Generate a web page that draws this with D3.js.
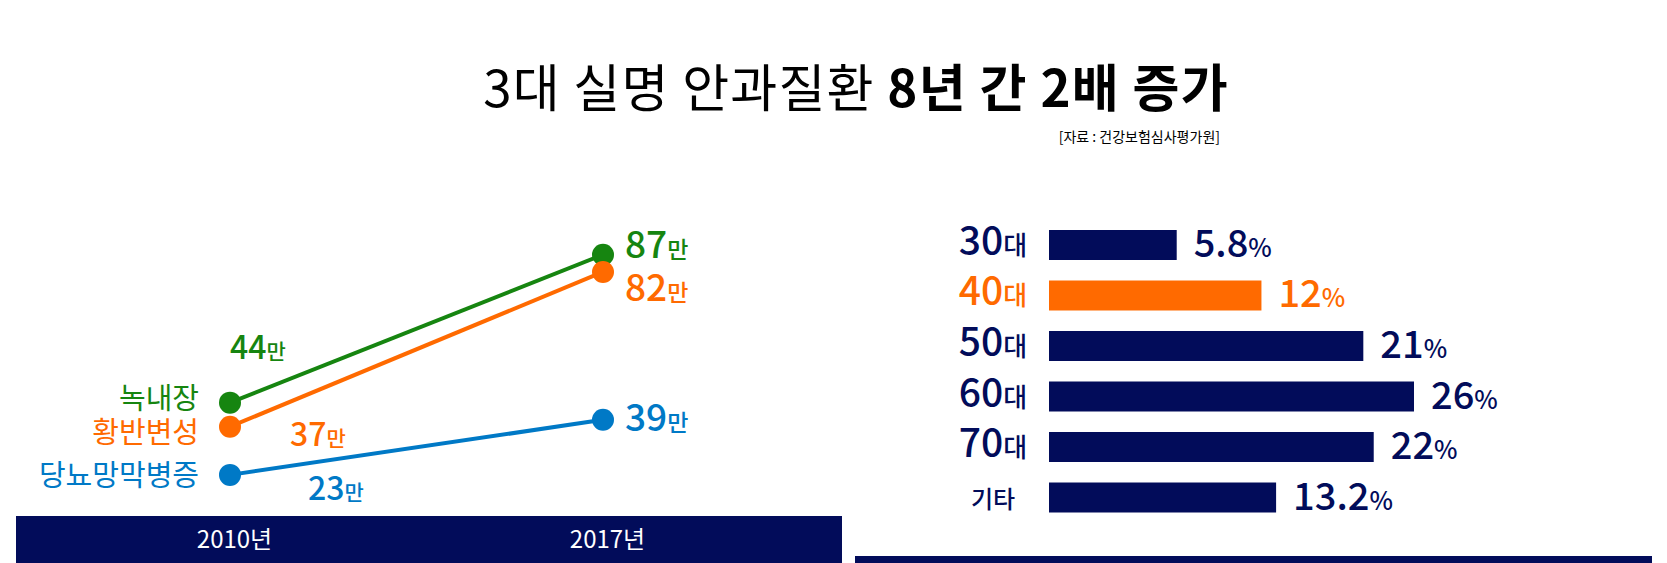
<!DOCTYPE html>
<html><head><meta charset="utf-8">
<script src="https://cdn.jsdelivr.net/npm/d3@7"></script>
<style>
html,body{margin:0;padding:0;background:#fff;overflow:hidden;}
svg{display:block;font-family:"Noto Sans CJK KR","Noto Sans",sans-serif;}
</style></head><body>
<svg id="chart" width="1667" height="563"></svg>
<script>
// ---- data ----
const titleParts = ['3대 실명 안과질환 ', '8년 간 2배 증가'];
const sourceText = '[자료 : 건강보험심사평가원]';
const years = ['2010년', '2017년'];
const diseases = ['녹내장', '황반변성', '당뇨망막병증'];
const glaucoma = [44, 87];
const macular = [37, 82];
const diabetic = [23, 39];
const valueUnit = '만';
const ageGroups = ['30대', '40대', '50대', '60대', '70대', '기타'];
const ageShares = [5.8, 12, 21, 26, 22, 13.2];
const shareUnit = '%';
const highlightGroup = '40대';

// ---- styles ----
const NAVY = '#020c5a', GREEN = '#168510', ORANGE = '#ff6a00', BLUE = '#0079c6';
const seriesColors = [GREEN, ORANGE, BLUE];
const series = [glaucoma, macular, diabetic].map((vals, i) => ({name: diseases[i], values: vals, color: seriesColors[i]}));
// label placement tweaks (relative to points)
const nameLabelDy = [6, 16, 11];
const startLabelOffset = [{dx: 0, dy: -44}, {dx: 60, dy: 19}, {dx: 78, dy: 25}];
const endLabelOffset = [{dx: 22, dy: 3}, {dx: 22, dy: 29}, {dx: 22, dy: 11}];

const svg = d3.select('#chart');

// title
const t = svg.append('text').attr('x', 856).attr('y', 107).attr('text-anchor', 'middle')
  .attr('font-size', 51).attr('letter-spacing', 1.2).attr('fill', '#000');
t.append('tspan').attr('font-weight', 400).text(titleParts[0]);
t.append('tspan').attr('font-weight', 700).text(titleParts[1]);
svg.append('text').attr('x', 1220).attr('y', 142).attr('text-anchor', 'end')
  .attr('font-size', 14).attr('fill', '#000').text(sourceText);

// ---- left: slope chart ----
const x = d3.scalePoint().domain(years).range([230, 603]);
const y = d3.scaleLinear().domain([0, 100]).range([554, 210]);

// bottom band + axis
svg.append('rect').attr('x', 16).attr('y', 516).attr('width', 826).attr('height', 60).attr('fill', NAVY);
const axis = svg.append('g').attr('transform', 'translate(4,530)')
  .call(d3.axisBottom(x).tickSize(0).tickPadding(0));
axis.select('.domain').remove();
axis.selectAll('text').attr('fill', '#fff').attr('font-size', 24).attr('font-family', '"Noto Sans CJK KR",sans-serif')
  .attr('dy', '0.75em');

const line = d3.line().x((d, i) => x(years[i])).y(d => y(d));
const g = svg.append('g');
series.forEach((s, si) => {
  g.append('path').attr('d', line(s.values)).attr('fill', 'none').attr('stroke', s.color).attr('stroke-width', 4);
  g.selectAll(null).data(s.values).join('circle')
    .attr('cx', (d, i) => x(years[i])).attr('cy', d => y(d)).attr('r', 11).attr('fill', s.color);
  // category label
  g.append('text').attr('x', x(years[0]) - 31).attr('y', y(s.values[0]) + nameLabelDy[si])
    .attr('text-anchor', 'end').attr('font-size', 29).attr('fill', s.color).text(s.name);
  // value labels
  s.values.forEach((v, i) => {
    const off = i === 0 ? startLabelOffset[si] : endLabelOffset[si];
    const big = i === 0 ? 32 : 37, small = i === 0 ? 21 : 23;
    const tx = g.append('text').attr('x', x(years[i]) + off.dx).attr('y', y(v) + off.dy)
      .attr('fill', s.color).attr('font-weight', 500);
    tx.append('tspan').attr('font-size', big).text(v);
    tx.append('tspan').attr('font-size', small).text(valueUnit);
  });
});

// ---- right: bar chart ----
const barX0 = 1049;
const w = d3.scalePow().exponent(0.7).domain([0, 26]).range([0, 365]);
const yb = d3.scaleBand().domain(ageGroups).range([230, 512.5]).paddingInner(0.406).paddingOuter(0);
const bg = svg.append('g');
ageGroups.forEach((grp, i) => {
  const c = grp === highlightGroup ? ORANGE : NAVY;
  const cy = yb(grp) + yb.bandwidth() / 2;
  bg.append('rect').attr('x', barX0).attr('y', yb(grp)).attr('width', w(ageShares[i]))
    .attr('height', yb.bandwidth()).attr('fill', c);
  const m = grp.match(/^(\d+)(.*)$/);
  const lab = bg.append('text').attr('x', 993).attr('y', cy + 10).attr('text-anchor', 'middle').attr('fill', c)
    .attr('font-weight', 500);
  if (m) {
    lab.append('tspan').attr('font-size', 39).text(m[1]);
    lab.append('tspan').attr('font-size', 26).text(m[2]);
  } else {
    lab.append('tspan').attr('font-size', 24).text(grp);
  }
  const val = bg.append('text').attr('x', barX0 + w(ageShares[i]) + 17).attr('y', cy + 12).attr('fill', c)
    .attr('font-weight', 500);
  val.append('tspan').attr('font-size', 38).text(ageShares[i]);
  val.append('tspan').attr('font-size', 25).text(shareUnit);
});
svg.append('rect').attr('x', 855).attr('y', 556).attr('width', 797).attr('height', 10).attr('fill', NAVY);
</script>
</body></html>
